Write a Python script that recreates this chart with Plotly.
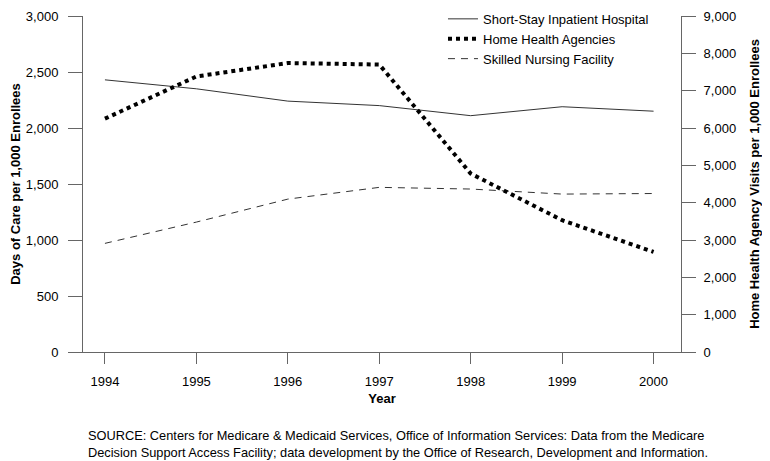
import plotly.graph_objects as go

years = [1994, 1995, 1996, 1997, 1998, 1999, 2000]
short_stay = [2430, 2350, 2240, 2200, 2110, 2190, 2150]
skilled_nursing = [970, 1160, 1365, 1470, 1455, 1410, 1415]
home_health = [6250, 7380, 7740, 7700, 4780, 3530, 2680]

font_family = "Liberation Sans, Arial, sans-serif"

fig = go.Figure()
fig.add_trace(go.Scatter(x=years, y=short_stay, mode="lines", name="Short-Stay Inpatient Hospital",
                         line=dict(color="#333333", width=1)))
fig.add_trace(go.Scatter(x=years, y=home_health, mode="lines", name="Home Health Agencies",
                         line=dict(color="black", width=4, dash="dot"), yaxis="y2"))
fig.add_trace(go.Scatter(x=years, y=skilled_nursing, mode="lines", name="Skilled Nursing Facility",
                         line=dict(color="#333333", width=1, dash="7px,6px")))

axis_common = dict(showgrid=False, zeroline=False, showline=True, linecolor="#666666", linewidth=1,
                   ticks="outside", tickcolor="#666666", automargin=False,
                   tickfont=dict(family=font_family, size=13, color="black"))

# page body adds an 8px offset, so the figure is slightly smaller and margins shifted
fig.update_layout(
    width=762, height=453,
    margin=dict(l=75, r=89, t=8, b=109, autoexpand=False),
    plot_bgcolor="white", paper_bgcolor="white",
    font=dict(family=font_family, color="black"),
    showlegend=True,
    legend=dict(x=0.602, y=1.036, xanchor="left", yanchor="top",
                bgcolor="rgba(0,0,0,0)",
                font=dict(size=13, family=font_family), tracegroupgap=0, itemwidth=30),
    xaxis=dict(**axis_common, ticklen=11, ticklabelstandoff=6, range=[1993.76, 2000.3], tickvals=years,
               ticktext=[str(y) for y in years],
               title=dict(text="<b>Year</b>", font=dict(size=13), standoff=6)),
    yaxis=dict(**axis_common, ticklen=14, ticklabelstandoff=7, range=[0, 3000],
               tickvals=[0, 500, 1000, 1500, 2000, 2500, 3000],
               tickformat=",", title=dict(text="<b>Days of Care per 1,000 Enrollees</b>", font=dict(size=13), standoff=6)),
    yaxis2=dict(**axis_common, ticklen=14, ticklabelstandoff=5, range=[0, 9000], overlaying="y", side="right",
                tickvals=[0, 1000, 2000, 3000, 4000, 5000, 6000, 7000, 8000, 9000], tickformat=",",
                title=dict(text="<b>Home Health Agency Visits per 1,000 Enrollees</b>", font=dict(size=13), standoff=14)),
)

fig.add_annotation(
    text="SOURCE: Centers for Medicare &amp; Medicaid Services, Office of Information Services: Data from the Medicare<br>"
         "Decision Support Access Facility; data development by the Office of Research, Development and Information.",
    xref="paper", yref="paper", x=0.005, y=-0.221, xanchor="left", yanchor="top", align="left",
    showarrow=False, font=dict(size=12.8, family=font_family, color="black"))

fig.write_html("out.html")
